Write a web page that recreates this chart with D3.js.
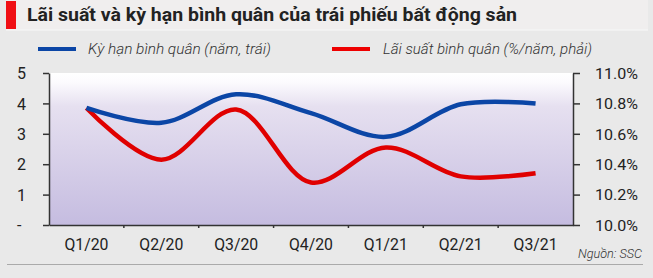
<!DOCTYPE html>
<html>
<head>
<meta charset="utf-8">
<script src="https://cdn.jsdelivr.net/npm/d3@7"></script>
<style>
  body { margin: 0; background: #e9e9e9; }
  svg { display: block; }
</style>
</head>
<body>
<div id="chart"></div>
<script>
var quarters = ["Q1/20", "Q2/20", "Q3/20", "Q4/20", "Q1/21", "Q2/21", "Q3/21"];
var kyHan = [3.85, 3.36, 4.3, 3.68, 2.9, 3.97, 4.0];          // năm, trục trái
var laiSuat = [10.77, 10.43, 10.76, 10.28, 10.51, 10.32, 10.34]; // %/năm, trục phải
var leftTicks = [0, 1, 2, 3, 4, 5];
var rightTicks = [10.0, 10.2, 10.4, 10.6, 10.8, 11.0];

var W = 653, H = 278;
var Margin = {top: 73, right: 80, bottom: 53, left: 49};
var InnerWidth = W - Margin.left - Margin.right;
var InnerHeight = H - Margin.top - Margin.bottom;

var svg = d3.select("#chart").append("svg")
    .attr("width", W)
    .attr("height", H)
    .style("background", "#e9e9e9");

// title bar
svg.append("rect").attr("x", 6).attr("y", 0).attr("width", 642).attr("height", 29.5).style("fill", "#f0eeee");
svg.append("line").attr("x1", 6).attr("x2", 648).attr("y1", 30).attr("y2", 30).style("stroke", "#fafafa");
svg.append("rect").attr("x", 6).attr("y", 1).attr("width", 10).attr("height", 28).style("fill", "#f00f14");
svg.append("text")
   .attr("x", 27).attr("y", 21)
   .attr("textLength", 490).attr("lengthAdjust", "spacingAndGlyphs")
   .style("font-family", "Roboto, 'Liberation Sans', sans-serif")
   .style("font-weight", "bold")
   .style("font-size", "19px")
   .style("fill", "#222")
   .text("Lãi suất và kỳ hạn bình quân của trái phiếu bất động sản");

// legend
var legend = [
  {label: "Kỳ hạn bình quân (năm, trái)", color: "#0b46a6", x: 38, tx: 88, w: 183},
  {label: "Lãi suất bình quân (%/năm, phải)", color: "#ee0000", x: 332, tx: 383, w: 209}
];
legend.forEach(function(d) {
  svg.append("line").attr("x1", d.x).attr("x2", d.x + 38).attr("y1", 49).attr("y2", 49)
     .style("stroke", d.color).style("stroke-width", 4);
  svg.append("text").attr("x", d.tx).attr("y", 54)
     .attr("textLength", d.w).attr("lengthAdjust", "spacingAndGlyphs")
     .style("font-family", "Roboto, sans-serif").style("font-style", "italic")
     .style("font-weight", 300).style("font-size", "15px").style("fill", "#333")
     .text(d.label);
});

var g = svg.append("g").attr("transform", "translate(" + Margin.left + "," + Margin.top + ")");

var defs = svg.append("defs");
var grad = defs.append("linearGradient").attr("id", "bg").attr("x1", 0).attr("x2", 0).attr("y1", 0).attr("y2", 1);
grad.append("stop").attr("offset", "0%").attr("stop-color", "#ffffff");
grad.append("stop").attr("offset", "6%").attr("stop-color", "#fcfbfe");
grad.append("stop").attr("offset", "22%").attr("stop-color", "#e6e0f0");
grad.append("stop").attr("offset", "100%").attr("stop-color", "#c5bce0");

g.append("rect").attr("width", InnerWidth).attr("height", InnerHeight).style("fill", "url(#bg)");

var x = d3.scaleBand().domain(quarters).range([0, InnerWidth]);
var yL = d3.scaleLinear().domain([0, 5]).range([InnerHeight, 0]);
var yR = d3.scaleLinear().domain([10, 11]).range([InnerHeight, 0]);

var tickFont = "Roboto, sans-serif";

var axL = g.append("g")
   .call(d3.axisLeft(yL).tickValues(leftTicks).tickSize(6).tickSizeOuter(0)
         .tickFormat(function(d) { return d === 0 ? "-" : d; }));
var axR = g.append("g").attr("transform", "translate(" + InnerWidth + ",0)")
   .call(d3.axisRight(yR).tickValues(rightTicks).tickSize(7).tickSizeOuter(0)
         .tickFormat(function(d) { return d.toFixed(1) + "%"; }));
var axB = g.append("g").attr("transform", "translate(0," + InnerHeight + ")")
   .call(d3.axisBottom(x).tickSize(0).tickSizeOuter(0));

// bottom ticks at band edges
axB.selectAll(".edge").data(quarters.slice(1)).enter().append("line")
   .attr("x1", function(d) { return x(d); }).attr("x2", function(d) { return x(d); })
   .attr("y1", 0).attr("y2", 3).style("stroke", "#333").style("stroke-width", 1.5);

[axL, axR, axB].forEach(function(a) {
  a.select(".domain").style("stroke", "#333").style("stroke-width", 1.5);
  a.selectAll(".tick line").style("stroke", "#333").style("stroke-width", 1.5);
  a.selectAll("text").style("font-family", tickFont).style("fill", "#222");
});
axL.selectAll("text").style("font-size", "16px").attr("x", -32).attr("dy", "0.35em")
   .attr("text-anchor", "start");
axR.selectAll("text").style("font-size", "15px").attr("x", 22).attr("dy", "0.35em")
   .attr("textLength", 43).attr("lengthAdjust", "spacingAndGlyphs");
axB.selectAll("text").style("font-size", "17px").attr("dy", "1.3em")
   .attr("textLength", 44).attr("lengthAdjust", "spacingAndGlyphs");

var lineL = d3.line().x(function(d, i) { return x(quarters[i]) + x.bandwidth() / 2; })
   .y(function(d) { return yL(d); }).curve(d3.curveCatmullRom.alpha(0.5));
var lineR = d3.line().x(function(d, i) { return x(quarters[i]) + x.bandwidth() / 2; })
   .y(function(d) { return yR(d); }).curve(d3.curveCatmullRom.alpha(0.5));

g.append("path").datum(laiSuat).attr("d", lineR)
   .style("fill", "none").style("stroke", "#e00000").style("stroke-width", 4.5);
g.append("path").datum(kyHan).attr("d", lineL)
   .style("fill", "none").style("stroke", "#0b46a6").style("stroke-width", 4.5);

// source + separator
svg.append("text").attr("x", 642).attr("y", 258).attr("text-anchor", "end")
   .attr("textLength", 64).attr("lengthAdjust", "spacingAndGlyphs")
   .style("font-family", tickFont).style("font-style", "italic").style("font-weight", 300)
   .style("font-size", "13px").style("fill", "#333").text("Nguồn: SSC");
svg.append("line").attr("x1", 7).attr("x2", 643).attr("y1", 264.5).attr("y2", 264.5)
   .style("stroke", "#aaa").style("stroke-width", 1);
</script>
</body>
</html>
